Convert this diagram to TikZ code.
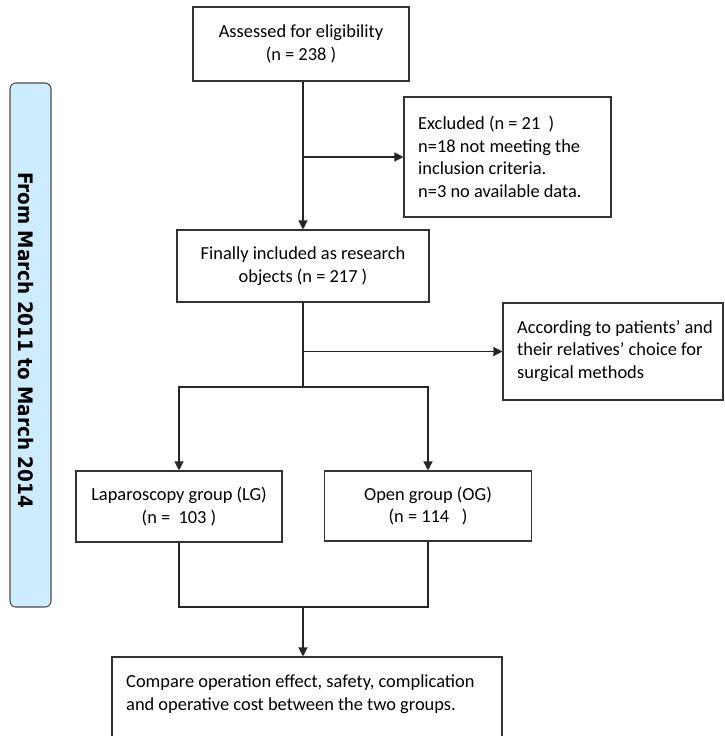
\documentclass[tikz,border=0pt]{standalone}
\usepackage{fontspec}
\setmainfont{Carlito}
\newfontfamily\sidefont{DejaVu Sans}
\usetikzlibrary{arrows.meta,calc}
\tikzset{
  box/.style={draw=black!80, line width=1.1pt, inner sep=0pt, align=center,
    font=\fontsize{18.4}{22.5}\selectfont},
  txt/.style={align=left, anchor=west, inner sep=0pt, font=\fontsize{18.4}{22.5}\selectfont},
  conn/.style={draw=black!85, line width=1.3pt},
  arr/.style={conn, -{Triangle[length=9pt,width=9pt]}},
  bar/.style={draw=black!70, line width=1.1pt, fill={rgb,255:red,206;green,236;blue,255}, rounded corners=6pt}
}
\begin{document}
\begin{tikzpicture}[x=1pt,y=-1pt]
\useasboundingbox (0,0) rectangle (724,736);
\clip (0,0) rectangle (724,736);
% side bar
\node[bar, minimum width=41pt, minimum height=524pt, inner sep=0pt] (side) at (30.5,345) {};
\node[rotate=-90, anchor=base, inner sep=0pt, font=\sidefont\bfseries\fontsize{20}{24}\selectfont] (sidetext) at (18.5,340)
  {\scalebox{0.92}[1]{From March 2011 to March 2014}};
% boxes
\node[box, minimum width=216pt, minimum height=74pt] (b1) at (301,44) {Assessed for eligibility\\(n = 238 )};
\node[box, minimum width=207pt, minimum height=120pt] (excl) at (507.5,157) {};
\node[txt] (excltext) at (418,157)
  {Excluded (n = 21\ \ )\\n=18 not meeting the\\inclusion criteria.\\n=3 no available data.};
\node[box, minimum width=252pt, minimum height=72pt] (incl) at (303,266) {Finally included as research\\objects (n = 217 )};
\node[box, minimum width=220pt, minimum height=97pt] (acc) at (613,351.5) {};
\node[txt] (acctext) at (517,351)
  {According to patients’ and\\their relatives’ choice for\\surgical methods};
\node[box, minimum width=206pt, minimum height=71pt] (lg) at (179,506.5) {Laparoscopy group (LG)\\(n =\ \ 103 )};
\node[box, minimum width=207pt, minimum height=70pt] (og) at (428,506) {Open group (OG)\\(n = 114\ \ \ )};
\node[box, minimum width=390pt, minimum height=100pt] (cmp) at (307,707) {};
\node[txt] (cmptext) at (126,694)
  {Compare operation effect, safety, complication\\and operative cost between the two groups.};
% connectors
\draw[arr] (b1.south -| incl.north) -- (incl.north);
\draw[arr] (excl.west -| incl.north) -- (excl.west);
\coordinate (split) at (303,387);
\draw[conn] (incl.south) -- (split);
\draw[arr] (acc.west -| incl.south) -- (acc.west);
\draw[arr] (split) -| (lg.north);
\draw[arr] (split) -| (og.north);
\coordinate (join) at (303,607);
\draw[conn] (lg.south) |- (join) -| (og.south);
\draw[arr] (join) -- (join |- cmp.north);
\end{tikzpicture}
\end{document}
